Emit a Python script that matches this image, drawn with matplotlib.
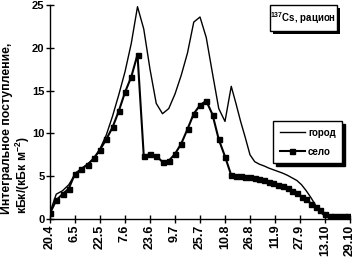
import matplotlib
matplotlib.use("Agg")
import matplotlib.pyplot as plt
import matplotlib.patheffects as pe
from matplotlib.patches import Rectangle

plt.rcParams['font.family'] = ['Liberation Sans', 'DejaVu Sans']
plt.rcParams['font.weight'] = 'bold'
plt.rcParams['mathtext.default'] = 'regular'

# days since 20.4
tick_days = [0, 16, 32, 48, 64, 80, 96, 112, 128, 144, 160, 176, 192]
tick_labels = ["20.4", "6.5", "22.5", "7.6", "23.6", "9.7", "25.7",
               "10.8", "26.8", "11.9", "27.9", "13.10", "29.10"]

days = [0, 4, 8, 12, 16, 20, 24, 28, 32, 36, 40, 44, 48, 52, 56,
        60, 64, 68, 72, 76, 80, 84, 88, 92, 96, 100, 104, 108, 112,
        116, 119, 122, 125, 128, 131, 134, 137, 140, 143, 146, 149, 152,
        155, 158, 161, 164, 167, 170, 173, 176, 179, 182, 185, 188, 191]

selo = [0.66, 2.2, 2.9, 3.55, 5.3, 5.8, 6.35, 7.1, 8.1, 9.3, 10.7, 12.6, 14.8, 16.6, 19.2,
        7.4, 7.55, 7.36, 6.67, 6.8, 7.6, 8.8, 10.5, 12.3, 13.3, 13.8, 12.2, 9.3, 7.3,
        5.1, 5.0, 5.0, 4.95, 4.85, 4.75, 4.7, 4.55, 4.35, 4.2, 4.0, 3.8, 3.6,
        3.3, 3.0, 2.6, 2.3, 1.8, 1.4, 1.05, 0.6, 0.3, 0.3, 0.3, 0.3, 0.3]

gorod = [0.8, 2.9, 3.3, 4.0, 5.2, 5.9, 6.4, 6.9, 8.2, 9.8, 12.0, 14.5, 17.2, 20.5, 24.8,
         22.2, 17.5, 13.5, 12.3, 12.9, 14.6, 16.8, 19.4, 23.0, 23.6, 21.2, 17.0, 12.9, 11.4,
         15.5, 13.5, 11.4, 9.5, 7.5, 6.7, 6.4, 6.2, 5.95, 5.75, 5.55, 5.35, 5.1,
         4.8, 4.5, 4.0, 3.3, 2.5, 1.6, 0.8, 0.3, 0.3, 0.3, 0.3, 0.3, 0.3]

W, H = 355, 257
fig = plt.figure(figsize=(W/100, H/100), dpi=100)
ax = fig.add_axes([50/W, 1-219/H, 300/W, 214/H])

ax.plot(days, gorod, color='black', lw=1.0, label='город')
ax.plot(days, selo, color='black', lw=1.5, marker='s', markersize=3.6,
        label='село')

ax.set_xlim(0, 192)
ax.set_ylim(0, 25)
ax.set_xticks(tick_days)
ax.set_xticklabels(tick_labels, rotation=90, fontsize=9, fontweight='bold')
ax.set_yticks([0, 5, 10, 15, 20, 25])
ax.set_yticklabels(['0', '5', '10', '15', '20', '25'], fontsize=8, fontweight='bold')
ax.tick_params(axis='both', direction='inout', length=6, width=1, pad=1, color='black')
for s in ['top', 'right']:
    ax.spines[s].set_visible(False)
for s in ['left', 'bottom']:
    ax.spines[s].set_linewidth(1)

fig.text(0.004, 0.50, "Интегральное поступление,\nкБк/(кБк м$^{-2}$)",
         rotation=90, ha='left', va='center', fontsize=8.8, fontweight='bold',
         linespacing=1.0)

# annotation box with shadow
box = Rectangle((270/W, 1-31/H), 67/W, 26/H, transform=fig.transFigure,
                fc='white', ec='black', lw=1, zorder=5)
box.set_path_effects([pe.SimplePatchShadow(offset=(2.5, -2.5), shadow_rgbFace='black', alpha=1),
                      pe.Normal()])
fig.add_artist(box)
fig.text(303.5/W, 1-18.5/H, "$^{137}$Cs, рацион", ha='center', va='center',
         fontsize=7, fontweight='bold', zorder=6)

leg = ax.legend(loc='upper left', bbox_to_anchor=((273-50)/300, (219-121)/214),
                frameon=True, fancybox=False, edgecolor='black', framealpha=1,
                prop={'weight': 'bold', 'size': 7},
                handlelength=2.6, borderpad=0.7, labelspacing=0.9,
                handletextpad=0.3, borderaxespad=0,
                shadow={'color': 'black', 'alpha': 1})
leg.get_frame().set_linewidth(1)

fig.savefig('out.png', dpi=100)
